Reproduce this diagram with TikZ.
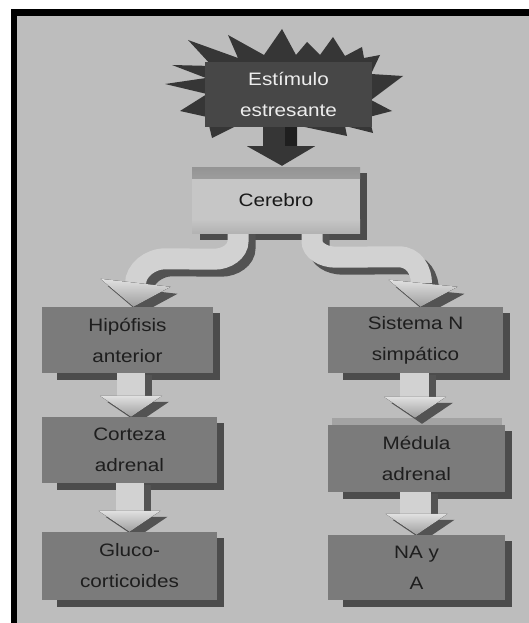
\documentclass[tikz,border=0pt]{standalone}
\usepackage{fontspec}
\setmainfont{Liberation Sans}[FakeStretch=1.15]
\usetikzlibrary{calc,backgrounds}

\definecolor{bgc}{HTML}{BDBDBD}
\definecolor{boxc}{HTML}{7B7B7B}
\definecolor{shadc}{HTML}{4C4C4C}
\definecolor{stimc}{HTML}{474747}
\definecolor{burstc}{HTML}{363636}
\definecolor{txtc}{HTML}{1E1E1E}
\definecolor{facec}{HTML}{D2D2D2}
\definecolor{edgec}{HTML}{535353}
\definecolor{stripc}{HTML}{A3A3A3}
\definecolor{brainc}{HTML}{C6C6C6}

\tikzset{
  boxtext/.style={font=\fontsize{18}{31}\selectfont, align=center, inner sep=0pt},
  graybox/.style={boxtext, rectangle, fill=boxc, text=txtc},
  stimbox/.style={boxtext, rectangle, fill=stimc, text=white!93!black},
  brainbox/.style={boxtext, rectangle, fill=brainc, text=black!90,
    path picture={
      \fill[top color=black!42, bottom color=brainc]
        (path picture bounding box.north west) rectangle ($(path picture bounding box.north east)+(0,11)$);
      \fill[top color=brainc, bottom color=black!30]
        ($(path picture bounding box.south west)+(0,-14)$) rectangle (path picture bounding box.south east);
    }},
  bandface/.style={line width=21pt, draw=facec},
  bandedge/.style={line width=21pt, draw=edgec},
  headface/.style={top color=black!12, bottom color=black!38},
}

% drop shadow on the right and bottom edges of a box
\newcommand\boxshadow[2][15]{%
  \fill[shadc] ($(#2.north east)+(0,6)$) rectangle ($(#2.south east)+(7,7)$);
  \fill[shadc] ($(#2.south west)+(#1,0)$) rectangle ($(#2.south east)+(7,7)$);
}

% straight block arrow with a dark extruded side: #1 start, #2 tip
\newcommand\flowarrow[2]{%
  \begin{scope}[transform canvas={xshift=7pt,yshift=-6pt}]
    \fill[edgec] ($(#1)+(-14,-4)$) rectangle ($(#2)+(14,-20)$);
    \fill[edgec] ($(#2)+(-31,-21)$) -- ($(#2)+(31,-21)$) -- (#2) -- cycle;
  \end{scope}
  \fill[facec] ($(#1)+(-14,-4)$) rectangle ($(#2)+(14,-20)$);
  \fill[headface] ($(#2)+(-31,-21)$) -- ($(#2)+(31,-21)$) -- (#2) -- cycle;
}

\begin{document}
\begin{tikzpicture}[x=1pt,y=-1pt]
\useasboundingbox (0,0) rectangle (529,623);

% boxes
\node[stimbox, minimum width=167pt, minimum height=65pt] (stim) at (288.5,94.5) {Estímulo\\estresante};
\node[brainbox, minimum width=168pt, minimum height=66pt] (cer) at (276,200) {Cerebro};
\node[graybox, minimum width=171pt, minimum height=66pt] (hip) at (127.5,340) {Hipófisis\\anterior};
\node[graybox, minimum width=175pt, minimum height=66pt] (sis) at (415.5,340) {Sistema N\\simpático};
\node[graybox, minimum width=175pt, minimum height=66pt] (cor) at (129.5,450) {Corteza\\adrenal};
\node[graybox, minimum width=177pt, minimum height=67pt] (med) at (416.5,458.5) {Médula\\adrenal};
\node[graybox, minimum width=175pt, minimum height=68pt] (glu) at (129.5,566) {Gluco-\\corticoides};
\node[graybox, minimum width=177pt, minimum height=65pt] (na) at (416.5,567.5) {NA y\\A};

\begin{scope}[on background layer]
  % frame and panel
  \fill[white] (0,0) rectangle (529,623);
  \fill[black] (11,9) rectangle (529,623);
  \fill[bgc] (17,16) rectangle (529,623);

  % starburst behind the stimulus
  \fill[burstc] (165,84) -- (207,94) -- (180,111) -- (207,117) -- (212,138)
    -- (236,126) -- (300,126) -- (347,136) -- (345,126) -- (373,133) -- (369,117)
    -- (392,111) -- (371,100) -- (403,76) -- (371,74) -- (380,55) -- (364,58)
    -- (362,47) -- (345,56) -- (333,37) -- (320,55) -- (307,42) -- (296,55)
    -- (282,29) -- (264,55) -- (228,35) -- (238,58) -- (188,40) -- (212,66)
    -- (172,65) -- (206,78) -- cycle;

  % dark arrow from the stimulus into the brain
  \fill[burstc] ($(stim.south)+(-25.5,-7)$) -- ($(stim.south)+(-25.5,19)$)
    -- ($(stim.south)+(-41.5,19)$) -- ($(cer.north)+(6,-1)$)
    -- ($(stim.south)+(26.5,19)$) -- ($(stim.south)+(8.5,19)$)
    -- ($(stim.south)+(8.5,-7)$) -- cycle;
  \fill[black!88] ($(stim.south)+(-4,-7)$) rectangle ($(stim.south)+(8.5,19)$);

  % shadows
  \boxshadow[8]{cer}
  \boxshadow{hip}
  \boxshadow{sis}
  \boxshadow{cor}
  \boxshadow{med}
  \boxshadow{glu}
  \boxshadow{na}
  \fill[stripc] ($(med.north west)+(4,-7)$) rectangle ($(med.north east)+(-3,0)$);

  % curved arrows out of the brain
  \coordinate (la) at ($(cer.south)+(-38,-6)$);
  \coordinate (lt) at ($(hip.north)+(6,0)$);
  \coordinate (ra) at ($(cer.south)+(36,-6)$);
  \coordinate (rt) at ($(sis.north)+(5,0)$);

  \begin{scope}[transform canvas={xshift=7pt,yshift=-7pt}]
    \draw[bandedge] (la) -- ++(0,14) .. controls +(0,10) and +(13,0) .. ($(la)+(-24,32)$)
      -- ($(lt)+(32,-48)$) .. controls +(-16,0) and +(0,-13) .. ($(lt)+(2,-23)$);
    \fill[edgec] ($(lt)+(-33,-28)$) -- ($(lt)+(37,-20)$) -- (lt) -- cycle;
    \draw[bandedge] (ra) -- ++(0,14) .. controls +(0,9) and +(-13,0) .. ($(ra)+(24,30)$)
      -- ($(rt)+(-22,-50)$) .. controls +(16,0) and +(0,-13) .. ($(rt)+(1,-23)$);
    \fill[edgec] ($(rt)+(-32,-27)$) -- ($(rt)+(37,-20)$) -- (rt) -- cycle;
  \end{scope}
  \draw[bandface] (la) -- ++(0,14) .. controls +(0,10) and +(13,0) .. ($(la)+(-24,32)$)
    -- ($(lt)+(32,-48)$) .. controls +(-16,0) and +(0,-13) .. ($(lt)+(2,-23)$);
  \fill[headface] ($(lt)+(-33,-28)$) -- ($(lt)+(37,-20)$) -- (lt) -- cycle;
  \draw[bandface] (ra) -- ++(0,14) .. controls +(0,9) and +(-13,0) .. ($(ra)+(24,30)$)
    -- ($(rt)+(-22,-50)$) .. controls +(16,0) and +(0,-13) .. ($(rt)+(1,-23)$);
  \fill[headface] ($(rt)+(-32,-27)$) -- ($(rt)+(37,-20)$) -- (rt) -- cycle;

  % straight arrows down each column
  \flowarrow{$(hip.south)+(3.5,0)$}{$(cor.north)+(1.5,0)$}
  \flowarrow{$(cor.south)+(0,0)$}{$(glu.north)+(0,0)$}
  \flowarrow{$(sis.south)+(-2,0)$}{$(med.north)+(-1.5,-7)$}
  \flowarrow{$(med.south)+(-2.5,0)$}{$(na.north)+(0,0)$}
\end{scope}
\end{tikzpicture}
\end{document}
